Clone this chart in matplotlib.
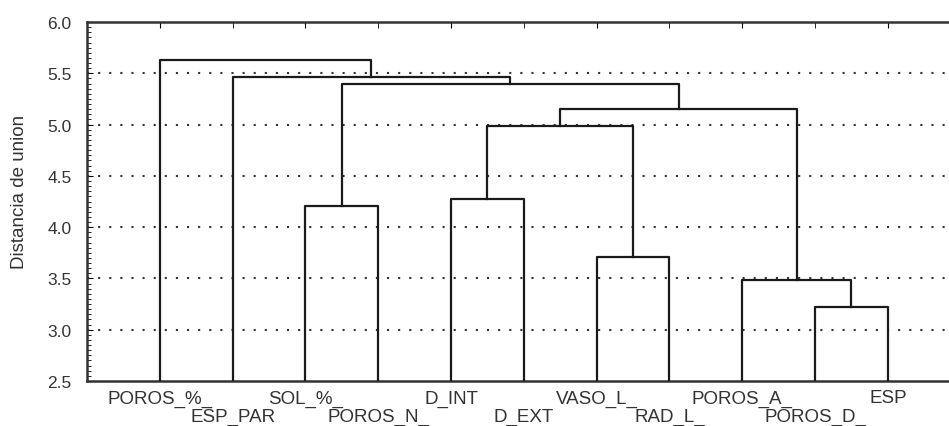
import numpy as np
import matplotlib
matplotlib.use("Agg")
import matplotlib.pyplot as plt
from matplotlib.ticker import MultipleLocator, FixedLocator, FixedFormatter

plt.rcParams['font.family'] = ['Liberation Sans', 'DejaVu Sans']
plt.rcParams['lines.scale_dashes'] = False

# hojas del dendrograma, de izquierda a derecha
hojas = ["POROS_%_", "ESP_PAR", "SOL_%_", "POROS_N_", "D_INT", "D_EXT",
         "VASO_L_", "RAD_L_", "POROS_A_", "POROS_D_", "ESP"]

# uniones: nodo izq, nodo der, distancia (nodos nuevos numerados desde 11)
union_a = [9, 8, 6, 2, 4, 15, 16, 14, 1, 0]
union_b = [10, 11, 7, 3, 5, 13, 12, 17, 18, 19]
distancia = [3.22, 3.48, 3.71, 4.21, 4.27, 4.99, 5.15, 5.40, 5.46, 5.63]

n = len(hojas)
pos = {i: float(i) for i in range(n)}
alt = {i: 0.0 for i in range(n)}

fig = plt.figure(figsize=(9.49, 4.27), dpi=100)
ax = fig.add_axes([87/949, 1-382/427, 1-87/949, (382-23)/427])

for k, (a, b, d) in enumerate(zip(union_a, union_b, distancia)):
    xa, xb = pos[a], pos[b]
    ax.plot([xa, xa, xb, xb], [alt[a], d, d, alt[b]], color='#1a1a1a', lw=1.6, zorder=3)
    pos[n + k] = (xa + xb) / 2
    alt[n + k] = d

ax.set_xlim(-1, 10.84)
ax.set_ylim(2.5, 6.0)
ax.yaxis.set_minor_locator(MultipleLocator(0.05))
ax.set_yticks(np.arange(2.5, 6.01, 0.5))
ax.set_yticklabels([f"{v:.1f}" for v in np.arange(2.5, 6.01, 0.5)])

for y in np.arange(3.0, 5.51, 0.5):
    ax.axhline(y, color='#333333', lw=1.5, ls=(0, (1.5, 6.5)), zorder=1)

# etiquetas alternadas en dos filas: pares como mayores, impares como menores
pares = list(range(0, n, 2))
impares = list(range(1, n, 2))
ax.xaxis.set_major_locator(FixedLocator(pares))
ax.xaxis.set_major_formatter(FixedFormatter([hojas[i] for i in pares]))
ax.xaxis.set_minor_locator(FixedLocator(impares))
ax.xaxis.set_minor_formatter(FixedFormatter([hojas[i] for i in impares]))
ax.tick_params(axis='x', which='both', bottom=False, top=True, direction='in',
               length=4, labelsize=13.5, labelcolor='#333333')
ax.tick_params(axis='x', which='major', pad=6)
ax.tick_params(axis='x', which='minor', pad=19)

ax.tick_params(axis='y', which='both', direction='in', labelsize=12.5,
               labelcolor='#333333', pad=11)
ax.tick_params(axis='y', which='major', length=4)
ax.tick_params(axis='y', which='minor', length=3)

ax.set_ylabel("Distancia de union", fontsize=13.5, color='#333333')
ax.yaxis.set_label_coords(-0.068, 0.53)

for s in ['left', 'top', 'bottom']:
    ax.spines[s].set_linewidth(1.8)
    ax.spines[s].set_color('#333333')
ax.spines['right'].set_visible(False)

fig.savefig("out.png", dpi=100)
